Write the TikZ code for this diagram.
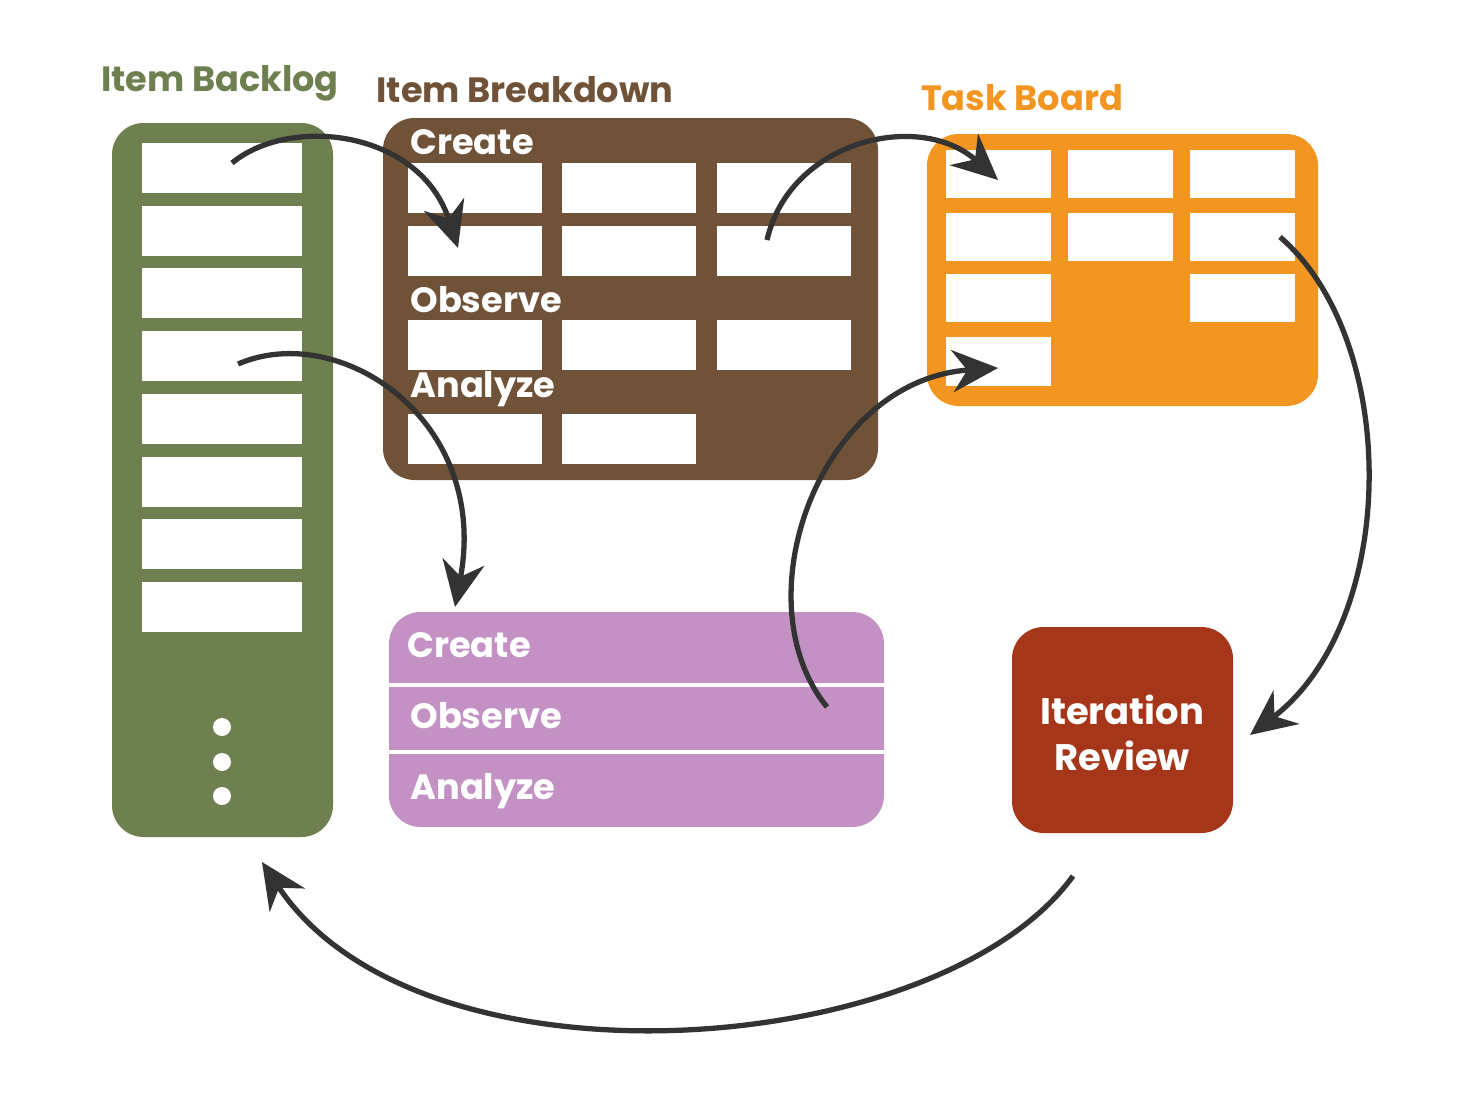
\documentclass[tikz,border=0pt]{standalone}
\usepackage{fontspec}
\setmainfont{Poppins}
\usetikzlibrary{arrows.meta,positioning}
\definecolor{backlog}{HTML}{6E8050}
\definecolor{breakdown}{HTML}{6F5238}
\definecolor{taskboard}{HTML}{F39621}
\definecolor{phases}{HTML}{C391C4}
\definecolor{review}{HTML}{A6361A}
\definecolor{flow}{HTML}{333333}
\tikzset{
  panel/.style={rounded corners=9pt},
  cell/.style={fill=white},
  title/.style={font=\bfseries\fontsize{10}{12}\selectfont},
  phase/.style={text=white, font=\bfseries\fontsize{10}{12}\selectfont, anchor=west},
  flowarrow/.style={draw=flow, line width=1.5pt, -{Stealth[length=13pt,width=12pt]}}
}
\begin{document}
\begin{tikzpicture}[x=0.01cm,y=-0.01cm]
	\useasboundingbox (0,0) rectangle (1470,1106);
	% item backlog
	\fill [backlog, panel] (112,123) rectangle (333,837);
	\foreach \y in {143,206,268,331,394,457,519,582}
		\fill [cell] (142,\y) rectangle (302,\y+50);
	\foreach \y in {727,762,796}
		\fill [white] (222,\y) circle (9);
	\node (backlogTitle) [title, text=backlog] at (220,83) {Item Backlog};
	% item breakdown
	\fill [breakdown, panel] (383,118) rectangle (878,480);
	\foreach \y in {163,226,320}
		\foreach \x in {408,562,717}
			\fill [cell] (\x,\y) rectangle (\x+134,\y+50);
	\foreach \x in {408,562}
		\fill [cell] (\x,414) rectangle (\x+134,464);
	\node (bdCreate) [phase] at (398,142) {Create};
	\node (bdObserve) [phase] at (398,300) {Observe};
	\node (bdAnalyze) [phase] at (398,389) {Analyze};
	\node (breakdownTitle) [title, text=breakdown] at (525,90) {Item Breakdown};
	% task board
	\fill [taskboard, panel] (927,134) rectangle (1318,406);
	\foreach \y in {150,213}
		\foreach \x in {946,1068,1190}
			\fill [cell] (\x,\y) rectangle (\x+105,\y+48);
	\fill [cell] (946,274) rectangle (1051,322);
	\fill [cell] (1190,274) rectangle (1295,322);
	\fill [cell] (946,337) rectangle (1051,386);
	\node (taskTitle) [title, text=taskboard] at (1022,98) {Task Board};
	% phases
	\fill [phases, panel] (389,612) rectangle (884,827);
	\draw [white, line width=1pt] (389,685) -- (884,685);
	\draw [white, line width=1pt] (389,752) -- (884,752);
	\node (phCreate) [phase] at (395,645) {Create};
	\node (phObserve) [phase] at (398,716) {Observe};
	\node (phAnalyze) [phase] at (398,791) {Analyze};
	% iteration review
	\fill [review, panel] (1012,627) rectangle (1233,833);
	\node (reviewText) [text=white, font=\bfseries\fontsize{10.5}{13}\selectfont, align=center] at (1122,733) {Iteration\\Review};
	% flow
	\coordinate (a1) at (232,163); \coordinate (b1) at (458,248);
	\coordinate (a2) at (238,364); \coordinate (b2) at (455,607);
	\coordinate (a3) at (767,240); \coordinate (b3) at (998,180);
	\coordinate (a4) at (827,707); \coordinate (b4) at (998,368);
	\coordinate (a5) at (1280,237); \coordinate (b5) at (1250,735);
	\coordinate (a6) at (1073,876); \coordinate (b6) at (262,862);
	\draw [flowarrow] (a1) .. controls (290,115) and (420,130) .. (b1);
	\draw [flowarrow] (a2) .. controls (340,320) and (490,420) .. (b2);
	\draw [flowarrow] (a3) .. controls (790,140) and (920,110) .. (b3);
	\draw [flowarrow] (a4) .. controls (740,600) and (820,380) .. (b4);
	\draw [flowarrow] (a5) .. controls (1400,340) and (1400,620) .. (b5);
	\draw [flowarrow] (a6) .. controls (940,1060) and (420,1100) .. (b6);
\end{tikzpicture}
\end{document}
